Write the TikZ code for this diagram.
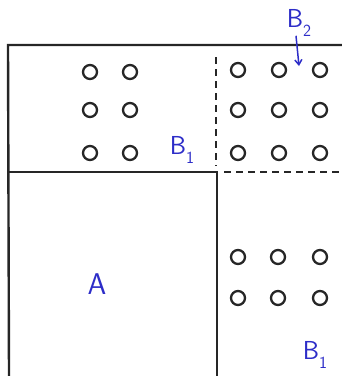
\documentclass[tikz,border=0pt]{standalone}
\usepackage{fontspec}
\usepackage{tikz}
\usetikzlibrary{arrows.meta}
\definecolor{inkblue}{RGB}{45,45,200}
\newcommand{\blk}[1]{B\raisebox{-0.35em}{\fontsize{17}{20}\selectfont #1}}
\tikzset{
  wall/.style={line width=2.4pt,black!85},
  cut/.style={line width=1.9pt,black!85,dash pattern=on 7pt off 5pt},
  hole/.style={circle,draw=black!85,line width=2.3pt,inner sep=0pt,minimum size=14pt},
  tag/.style={text=inkblue,inner sep=1pt,font=\sffamily\fontsize{26}{30}\selectfont}
}
\begin{document}
\begin{tikzpicture}[x=1pt,y=1pt]
  \useasboundingbox (0,0) rectangle (342,-376);
  % outline
  \coordinate (tl) at (8,-45);
  \coordinate (tr) at (342,-45);
  \coordinate (bl) at (9,-376);
  \coordinate (ml) at (9,-172);
  \coordinate (mm) at (217,-172);
  \coordinate (bm) at (217,-376);
  \draw[wall] (tr) -- (tl) -- (bl);
  \draw[wall] (ml) -- (mm) -- (bm);
  \coordinate (dt) at (216,-57);
  \coordinate (db) at (216,-166);
  \coordinate (dl) at (224,-172);
  \coordinate (dr) at (342,-172);
  \draw[cut] (dt) -- (db);
  \draw[cut] (dl) -- (dr);
  % holes
  \foreach \x in {90,130}
    \foreach \y in {72,110,153}
      \node[hole] (h-\x-\y) at (\x,-\y) {};
  \foreach \x in {238,279,320}
    \foreach \y in {70,110,153}
      \node[hole] (h-\x-\y) at (\x,-\y) {};
  \foreach \x in {238,278,320}
    \foreach \y in {257,298}
      \node[hole] (h-\x-\y) at (\x,-\y) {};
  % labels
  \node[tag,font=\sffamily\fontsize{30}{34}\selectfont] (a) at (97,-284) {A};
  \node[tag] (b1top) at (182,-150) {\blk{1}};
  \node[tag] (b1bot) at (315,-355) {\blk{1}};
  \node[tag] (b2) at (299,-23) {\blk{2}};
  \coordinate (b2tip) at (299,-66);
  \draw[inkblue,line width=1.5pt,-{Straight Barb[length=5pt,width=7pt]}] (b2.south) ++(-3,2) -- (b2tip);
\end{tikzpicture}
\end{document}
